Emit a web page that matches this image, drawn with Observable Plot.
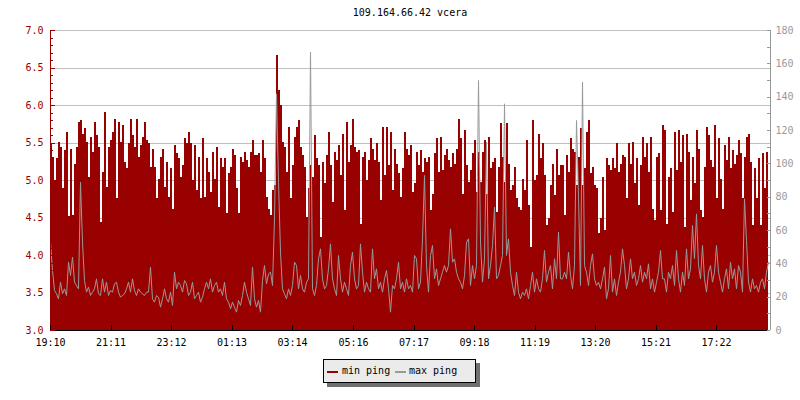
<!DOCTYPE html>
<html>
<head>
<meta charset="utf-8">
<script src="https://cdn.jsdelivr.net/npm/d3@7"></script>
<script src="https://cdn.jsdelivr.net/npm/@observablehq/plot@0.6"></script>
<style>
  html, body { margin: 0; padding: 0; background: #fff; }
  #wrap { position: relative; width: 800px; height: 400px; background: #fff;
          font-family: "DejaVu Sans Mono", monospace; font-size: 10px; }
  #wrap svg { position: absolute; left: 0; top: 0; }
  #title { position: absolute; left: 50px; width: 720px; top: 7px; line-height: 12px;
           text-align: center; color: #000; }
  #legend { position: absolute; left: 323px; top: 359px; width: 151px; height: 22px;
            border: 1px solid #000; background: #ebebeb; box-shadow: 4px 4px 0 #707070; }
  #legend .sw { position: absolute; width: 11px; height: 2px; top: 11px; }
  #legend .lb { position: absolute; top: 5px; line-height: 12px; color: #000; white-space: nowrap; }
</style>
</head>
<body>
<div id="wrap"></div>
<script>
const title = "109.164.66.42 vcera";
const seriesNames = ["min ping", "max ping"];
const startTime = "19:10";
const stepMinutes = 4;
const spanMinutes = 1440;
const tickLabels = ["19:10","21:11","23:12","01:13","03:14","05:16","07:17","09:18","11:19","13:20","15:21","17:22"];
const leftRange = [3, 7];
const rightRange = [0, 180];

// min ping (left axis)
const minPing = [
  5.49,5.31,5.00,5.29,5.51,5.44,4.89,5.40,5.64,4.52, 5.42,4.53,5.22,5.44,5.78,5.80,5.62,5.69,5.51,5.04,
  5.58,5.38,5.78,5.60,5.44,4.44,5.11,5.91,4.91,5.44, 5.53,5.64,5.82,4.76,5.78,5.51,5.73,5.24,5.16,5.49,
  5.82,5.60,5.44,5.82,5.31,5.47,5.58,5.78,5.53,5.49, 5.18,
  5.42,5.18,4.76,5.02,5.31,5.42,4.91,5.24,4.78,5.16, 4.62,5.47,5.36,5.29,5.04,5.20,5.56,5.49,5.64,5.49,
  5.00,5.47,4.87,5.31,4.76,5.56,4.78,5.29,5.11,4.84, 5.38,5.02,5.44,4.64,5.29,5.18,5.29,4.56,5.09,5.18,
  5.42,5.33,4.89,4.56,5.31,5.24,5.38,5.27,5.18,5.38, 5.53,5.33,
  5.33,5.36,5.11,5.53,5.29,4.78,4.62,4.53,4.87,4.93, 6.67,6.20,6.00,5.51,5.44,5.11,5.71,4.76,5.20,5.58,
  5.71,5.80,5.44,5.33,5.18,4.51,4.89,5.20,5.04,5.60, 5.29,5.20,4.24,5.24,4.96,5.33,5.64,5.20,4.71,5.38,
  5.27,5.47,5.07,5.62,4.60,5.78,5.24,5.47,5.82,5.44, 5.38,
  5.40,4.42,5.31,5.38,5.00,5.27,5.56,5.42,5.27,5.49, 5.24,4.73,5.71,5.07,5.71,5.20,5.64,4.87,5.42,5.22,
  5.09,4.78,5.16,5.64,5.42,5.33,5.47,4.84,4.96,5.38, 5.20,5.40,5.11,5.29,5.24,5.31,4.60,4.82,5.36,5.56,
  5.11,5.58,5.13,5.33,5.42,5.27,5.18,5.36,5.22,5.42, 5.82,
  5.56,4.82,5.67,5.20,4.98,5.13,5.36,5.53,4.84,5.38, 4.98,5.38,5.53,4.82,5.58,5.16,5.24,5.29,4.58,5.18,
  5.76,5.31,4.98,5.76,5.22,4.87,4.93,5.18,4.76,4.64, 4.60,5.02,4.87,5.53,4.67,4.11,5.80,5.00,5.07,5.62,
  5.29,5.49,5.07,4.40,4.49,4.93,5.22,4.80,5.42,5.07, 5.20,
  5.20,4.53,5.33,5.11,5.56,5.42,5.38,4.93,5.31,5.69, 4.93,5.16,5.64,5.80,5.09,5.18,4.93,4.89,4.29,4.49,
  5.04,4.33,5.29,5.20,5.13,5.29,5.16,5.49,5.11,5.22, 5.33,5.31,4.76,5.49,5.22,5.51,4.96,5.29,4.67,5.20,
  5.58,5.31,5.49,5.11,5.58,4.62,4.47,5.31,5.36,4.60, 5.73,
  5.67,4.42,5.04,5.16,4.58,5.64,5.13,5.67,5.24,5.60, 4.38,5.62,5.38,4.73,5.31,4.96,5.67,5.42,4.60,4.51,
  5.18,5.71,5.60,5.27,5.18,5.73,4.76,5.56,5.02,4.62, 5.47,5.27,5.58,5.16,5.40,5.22,5.33,5.53,5.36,4.76,
  5.31,5.58,5.62,5.24,4.40,5.16,4.76,5.29,4.40,5.36, 4.89,5.38,4.27
];

// max ping (right axis, ms)
const maxPing = [
  53,36,24,22,19,29,22,25,21,41, 33,44,29,27,25,89,53,30,23,26, 21,23,25,31,22,21,31,23,29,21,
  24,23,28,29,23,20,21,22,25,29, 23,31,24,21,25,23,22,21,23,23, 38,
  19,17,21,20,14,19,25,19,17,23, 15,35,25,29,27,23,30,28,21,23, 29,19,21,23,17,20,25,29,25,31,
  23,27,29,23,25,21,29,19,17,13, 17,14,11,18,15,21,29,23,19,15, 38,
  19,14,18,11,30,39,28,34,35,27, 67,142,89,47,25,22,19,25,21,27, 41,39,25,33,25,23,29,31,167,25,
  21,27,43,49,31,25,27,37,52,31, 25,21,45,31,23,29,25,21,39,47, 31,25,
  27,52,35,23,29,25,23,49,31,37, 25,29,23,31,36,25,11,27,25,31, 41,25,29,23,31,25,27,23,45,43,
  25,29,55,93,39,23,45,51,31,37, 27,31,35,39,35,39,61,41,43,35, 31,
  29,25,33,53,55,27,39,31,39,150, 53,29,43,113,31,39,51,74,31,33, 39,45,136,45,55,35,27,21,35,23,
  19,23,21,25,19,27,35,23,31,25, 23,31,48,29,35,39,25,43,31,59, 31,
  31,35,31,47,33,25,39,126,80,27, 149,39,35,27,39,46,31,27,29,25, 31,38,19,25,45,23,31,21,29,35,
  49,39,25,31,43,31,35,27,31,39, 29,35,31,40,25,31,23,29,35,48, 31,
  31,23,35,31,39,27,48,31,23,35, 27,49,31,37,63,43,70,39,31,51, 31,23,35,39,29,35,51,35,29,23,
  31,37,25,41,31,37,25,39,35,23, 79,54,29,23,31,25,27,23,29,31, 25,35,41
];

const RED = "#990000", GRAY = "#999999";
const toMin = s => { const [h, m] = s.split(":").map(Number); return h * 60 + m; };
const t0 = toMin(startTime);
const tickPos = tickLabels.map(s => (toMin(s) - t0 + 1440) % 1440);
const scaleR = (leftRange[1] - leftRange[0]) / (rightRange[1] - rightRange[0]);
const toLeft = ms => leftRange[0] + (ms - rightRange[0]) * scaleR;
const fromLeft = v => Math.round((v - leftRange[0]) / scaleR + rightRange[0]);

const rows = minPing.map((v, i) => ({ t: i * stepMinutes, min: v, max: toLeft(maxPing[i]) }));

const leftMajor = d3.range(30, 71, 5).map(v => v / 10);
const leftMinor = d3.range(30, 71, 1).map(v => v / 10);
const rightAll = d3.range(0, 181, 10).map(toLeft);
const rightLabels = d3.range(0, 181, 20).map(toLeft);
const gridVals = d3.range(35, 71, 5).map(v => v / 10);

const W = 800, H = 400, ML = 50, MR = 30, MT = 30, MB = 70;
const plotW = W - ML - MR, plotH = H - MT - MB;

const chart = Plot.plot({
  width: W, height: H,
  marginLeft: ML, marginRight: MR, marginTop: MT, marginBottom: MB,
  style: { fontFamily: '"DejaVu Sans Mono", monospace', fontSize: "10px", background: "transparent", overflow: "visible" },
  x: { type: "linear", domain: [0, spanMinutes], label: null },
  y: { domain: leftRange, label: null },
  marks: [
    Plot.ruleY(gridVals, { stroke: "#c0c0c0", shapeRendering: "crispEdges" }),
    Plot.areaY(rows, { x: "t", y1: leftRange[0], y2: "min", curve: "step-after", fill: RED, shapeRendering: "crispEdges" }),
    Plot.line(rows, { x: "t", y: "max", curve: "linear", stroke: GRAY, strokeWidth: 1 }),
    Plot.ruleY([leftRange[0]], { stroke: "#000", shapeRendering: "crispEdges" }),
    Plot.ruleX([0], { stroke: RED, shapeRendering: "crispEdges" }),
    Plot.ruleX([spanMinutes], { stroke: GRAY, shapeRendering: "crispEdges" }),
    Plot.tickY(leftMajor, { y: d => d, stroke: RED, insetRight: plotW - 5, shapeRendering: "crispEdges" }),
    Plot.tickY(leftMinor, { y: d => d, stroke: RED, insetRight: plotW - 3, shapeRendering: "crispEdges" }),
    Plot.tickY(rightAll, { y: d => d, stroke: GRAY, insetLeft: plotW - 3, shapeRendering: "crispEdges" }),
    Plot.tickX(tickPos, { x: d => d, stroke: "#000", insetTop: plotH - 5, shapeRendering: "crispEdges" }),
    Plot.axisY(leftMajor, { anchor: "left", tickSize: 0, tickPadding: 7, label: null,
      tickFormat: d => d.toFixed(1), color: RED }),
    Plot.axisY(rightLabels, { anchor: "right", tickSize: 0, tickPadding: 5, label: null,
      tickFormat: d => String(fromLeft(d)), color: GRAY }),
    Plot.axisX(tickPos, { anchor: "bottom", tickSize: 0, tickPadding: 8, label: null,
      tickFormat: d => tickLabels[tickPos.indexOf(d)], color: "#000" })
  ]
});

const wrap = document.getElementById("wrap");
wrap.appendChild(chart);

const t = document.createElement("div");
t.id = "title";
t.textContent = title;
wrap.appendChild(t);

const lg = document.createElement("div");
lg.id = "legend";
const items = [
  { name: seriesNames[0], color: RED, sx: 3, lx: 18 },
  { name: seriesNames[1], color: GRAY, sx: 71, lx: 85 }
];
for (const it of items) {
  const sw = document.createElement("span");
  sw.className = "sw"; sw.style.left = it.sx + "px"; sw.style.background = it.color;
  const lb = document.createElement("span");
  lb.className = "lb"; lb.style.left = it.lx + "px"; lb.textContent = it.name;
  lg.appendChild(sw); lg.appendChild(lb);
}
wrap.appendChild(lg);
</script>
</body>
</html>
